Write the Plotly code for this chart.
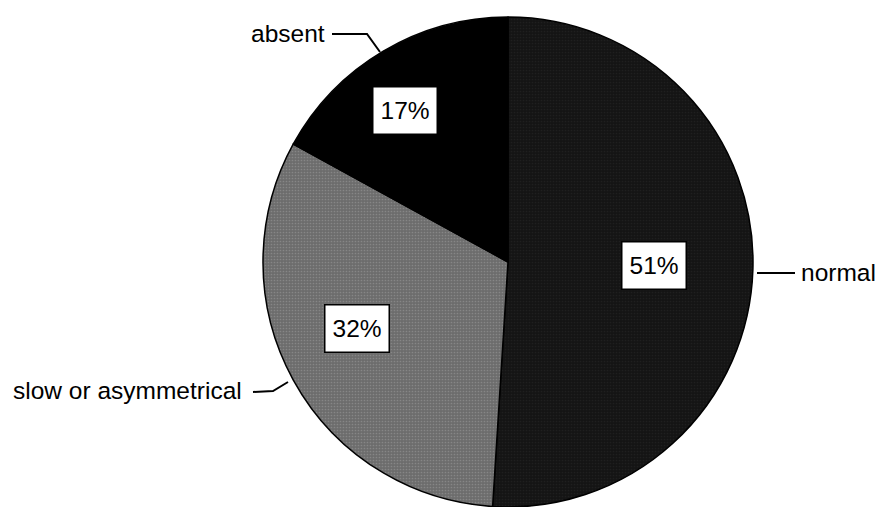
import plotly.graph_objects as go

# Response categories and their shares (percent)
categories = ["normal", "slow or asymmetrical", "absent"]
shares = [51, 32, 17]
slice_colors = ["#141414", "#6c6c6c", "#000000"]

W, H = 878, 507
FONT = "Liberation Sans, Arial, Helvetica, sans-serif"


def px(x):
    return x / W


def py(y):
    return 1 - y / H


fig = go.Figure()
fig.add_trace(go.Pie(
    labels=categories,
    values=shares,
    sort=False,
    direction="clockwise",
    rotation=0,
    textinfo="none",
    hoverinfo="label+percent",
    marker=dict(
        colors=slice_colors,
        line=dict(color="#000000", width=1.5),
        pattern=dict(
            shape=[".", ".", ""],
            fgcolor=["#2a2a2a", "#a0a0a0", "#000000"],
            size=3,
            solidity=0.25,
            fillmode="overlay",
        ),
    ),
    domain=dict(x=[px(263), px(753)], y=[0, py(17)]),
    showlegend=False,
))

# Percentage boxes placed inside each slice
box_pos = {"normal": (654, 265), "slow or asymmetrical": (357, 328), "absent": (405, 110)}
for cat, val in zip(categories, shares):
    x, y = box_pos[cat]
    fig.add_annotation(
        x=px(x), y=py(y), xref="paper", yref="paper",
        text=f"{val}%", showarrow=False,
        font=dict(family=FONT, size=24.5, color="#000000"),
        bgcolor="#ffffff", bordercolor="#000000", borderwidth=1.5, borderpad=7,
        height=32,
        xanchor="center", yanchor="middle",
    )

# Category names with leader lines to the pie edge
name_pos = {
    "normal": (799, 272, "left"),
    "slow or asymmetrical": (244, 390, "right"),
    "absent": (327, 33, "right"),
}
for cat in categories:
    x, y, anchor = name_pos[cat]
    fig.add_annotation(
        x=px(x), y=py(y), xref="paper", yref="paper",
        text=cat, showarrow=False,
        font=dict(family=FONT, size=24.5, color="#000000"),
        xanchor=anchor, yanchor="middle",
    )

leaders = [
    [(757, 273), (795, 273)],
    [(253, 392), (273, 391), (288, 382)],
    [(332, 34), (367, 34), (380, 52)],
]
for pts in leaders:
    path = "M " + " L ".join(f"{px(a)},{py(b)}" for a, b in pts)
    fig.add_shape(type="path", path=path, xref="paper", yref="paper",
                  line=dict(color="#000000", width=2))

fig.update_layout(
    width=W, height=H,
    margin=dict(l=0, r=0, t=0, b=0),
    paper_bgcolor="#ffffff",
    plot_bgcolor="#ffffff",
)

fig.write_html("out.html")
